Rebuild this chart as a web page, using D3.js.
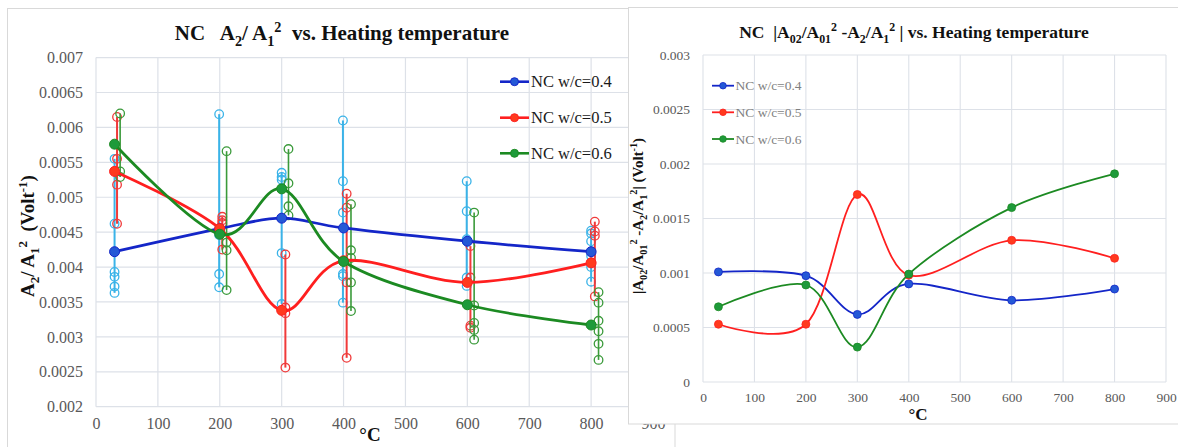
<!DOCTYPE html>
<html><head><meta charset="utf-8">
<script src="https://cdn.jsdelivr.net/npm/d3@7"></script>
<style>
html,body{margin:0;padding:0;background:#fff;}
svg{display:block;}
svg text{font-family:"Liberation Serif","Times New Roman",serif !important;white-space:pre;}
</style></head>
<body>
<svg id="chart" width="1178" height="447"></svg>
<script>
// ---------------- DATA ----------------
const temps = [30, 200, 300, 400, 600, 800];
const seriesNames = ["NC w/c=0.4", "NC w/c=0.5", "NC w/c=0.6"];

// Left chart: mean A2/A1^2
const ratioWc04 = [0.00422, 0.00455, 0.00470, 0.00456, 0.00437, 0.00422];
const ratioWc05 = [0.00537, 0.00455, 0.00338, 0.00409, 0.00378, 0.00406];
const ratioWc06 = [0.00576, 0.00447, 0.00512, 0.00408, 0.00346, 0.00317];

// Left chart: individual measurements (x positions slightly shifted per series)
const rawXWc04 = [30, 199, 300, 399, 599, 800];
const rawXWc05 = [34, 204, 306, 405, 605, 806];
const rawXWc06 = [39, 211, 311, 412, 611, 812];
const rawWc04 = [
  [0.00555, 0.00462, 0.00393, 0.00386, 0.00372, 0.00363],
  [0.00619, 0.00446, 0.00390, 0.00371],
  [0.00535, 0.00529, 0.00525, 0.00420, 0.00347],
  [0.00610, 0.00523, 0.00478, 0.00390, 0.00387, 0.00349],
  [0.00523, 0.00480, 0.00440, 0.00437, 0.00385, 0.00373],
  [0.00452, 0.00448, 0.00437, 0.00416, 0.00400, 0.00379]
];
const rawWc05 = [
  [0.00615, 0.00555, 0.00518, 0.00462],
  [0.00472, 0.00467, 0.00463, 0.00425],
  [0.00418, 0.00342, 0.00334, 0.00256],
  [0.00505, 0.00485, 0.00378, 0.00270],
  [0.00430, 0.00385, 0.00316, 0.00313],
  [0.00465, 0.00451, 0.00445, 0.00358]
];
const rawWc06 = [
  [0.00620, 0.00537, 0.00529],
  [0.00566, 0.00435, 0.00424, 0.00367],
  [0.00569, 0.00520, 0.00487, 0.00474],
  [0.00490, 0.00424, 0.00413, 0.00378, 0.00337],
  [0.00478, 0.00345, 0.00320, 0.00310, 0.00296],
  [0.00364, 0.00349, 0.00323, 0.00308, 0.00290, 0.00267]
];

// Right chart: |A02/A01^2 - A2/A1^2|
const diffWc04 = [0.00101, 0.000975, 0.00062, 0.00090, 0.00075, 0.000853];
const diffWc05 = [0.00053, 0.00053, 0.00172, 0.00098, 0.00130, 0.001135];
const diffWc06 = [0.00069, 0.00089, 0.00032, 0.00099, 0.00160, 0.00191];

// Ticks
const xTicks = [0, 100, 200, 300, 400, 500, 600, 700, 800, 900];
const yTicksLeft = [0.002, 0.0025, 0.003, 0.0035, 0.004, 0.0045, 0.005, 0.0055, 0.006, 0.0065, 0.007];
const yTickLabelsLeft = ["0.002","0.0025","0.003","0.0035","0.004","0.0045","0.005","0.0055","0.006","0.0065","0.007"];
const yTicksRight = [0, 0.0005, 0.001, 0.0015, 0.002, 0.0025, 0.003];
const yTickLabelsRight = ["0","0.0005","0.001","0.0015","0.002","0.0025","0.003"];

// ---------------- STYLE ----------------
const mainColors = ["#1426c8", "#ff1f1f", "#1c8a22"];
const markerColors = ["#2458d6", "#ff3a1e", "#1e9a3a"];
const rawColors = ["#3ab3e8", "#f03a3a", "#3a9a3a"];
const gridColor = "#dde1e8";
const tickColor = "#595959";
const serif = "Liberation Serif, Times New Roman, serif";

const svg = d3.select("#chart");
svg.append("rect").attr("width", 1178).attr("height", 447).attr("fill", "#fff");

function richText(sel, parts, fs) {
  let cur = 0;
  parts.forEach(p => {
    const target = p[1] === "sub" ? 0.28 * fs : p[1] === "sup" ? -0.38 * fs : 0;
    sel.append("tspan").attr("dy", target - cur)
      .attr("font-size", p[1] ? fs * 0.68 : fs).text(p[0]);
    cur = target;
  });
}
function styleAxis(a, fs) {
  a.attr("font-family", serif);
  a.select(".domain").remove();
  a.selectAll("text").attr("fill", tickColor).attr("font-size", fs).style("font-family", serif);
}

// ================= LEFT CHART =================
svg.append("rect").attr("x", 7.5).attr("y", 8.5).attr("width", 667.5).attr("height", 460)
  .attr("fill", "#fff").attr("stroke", "#d9d9d9");

const L = svg.append("g");
const xL = d3.scaleLinear().domain([0, 900]).range([96, 653]);
const yL = d3.scaleLinear().domain([0.002, 0.007]).range([406.7, 57.6]);

L.append("g").selectAll("line").data(xTicks).join("line")
  .attr("x1", d => xL(d)).attr("x2", d => xL(d)).attr("y1", yL(0.007)).attr("y2", yL(0.002))
  .attr("stroke", gridColor).attr("stroke-width", 1.2);
L.append("g").selectAll("line").data(yTicksLeft).join("line")
  .attr("x1", xL(0)).attr("x2", xL(900)).attr("y1", d => yL(d)).attr("y2", d => yL(d))
  .attr("stroke", gridColor).attr("stroke-width", 1.2);

const axL = L.append("g").attr("transform", `translate(${xL(0)},0)`)
  .call(d3.axisLeft(yL).tickValues(yTicksLeft).tickFormat((d, i) => yTickLabelsLeft[i]).tickSize(0).tickPadding(13));
const axB = L.append("g").attr("transform", `translate(0,${yL(0.002)})`)
  .call(d3.axisBottom(xL).tickValues(xTicks).tickFormat(d3.format("d")).tickSize(0).tickPadding(11));
styleAxis(axL, 16);
styleAxis(axB, 16);

const rawSets = [[rawXWc04, rawWc04], [rawXWc05, rawWc05], [rawXWc06, rawWc06]];
rawSets.forEach(([xs, vals], si) => {
  const g = L.append("g");
  vals.forEach((arr, i) => {
    const xx = xL(xs[i]);
    g.append("line").attr("x1", xx).attr("x2", xx)
      .attr("y1", yL(d3.max(arr))).attr("y2", yL(d3.min(arr)))
      .attr("stroke", rawColors[si]).attr("stroke-width", si === 2 ? 1.6 : 2);
    g.selectAll(null).data(arr).join("circle")
      .attr("cx", xx).attr("cy", d => yL(d)).attr("r", 4.3)
      .attr("fill", "none").attr("stroke", rawColors[si]).attr("stroke-width", 1.3);
  });
});

const curve = d3.curveCardinal.tension(0);
const leftSeries = [ratioWc04, ratioWc05, ratioWc06];
const lineL = d3.line().x((d, i) => xL(temps[i])).y(d => yL(d)).curve(curve);
leftSeries.forEach((s, si) => {
  L.append("path").attr("d", lineL(s)).attr("fill", "none")
    .attr("stroke", mainColors[si]).attr("stroke-width", 2.8);
  L.append("g").selectAll("circle").data(s).join("circle")
    .attr("cx", (d, i) => xL(temps[i])).attr("cy", d => yL(d)).attr("r", 5)
    .attr("fill", markerColors[si]).attr("stroke", mainColors[si]).attr("stroke-width", 1);
});

const legYL = [81.7, 117.7, 153.3];
seriesNames.forEach((n, i) => {
  const g = L.append("g");
  g.append("line").attr("x1", 500).attr("x2", 529).attr("y1", legYL[i]).attr("y2", legYL[i])
    .attr("stroke", mainColors[i]).attr("stroke-width", 2.6);
  g.append("circle").attr("cx", 514.5).attr("cy", legYL[i]).attr("r", 4)
    .attr("fill", markerColors[i]).attr("stroke", mainColors[i]).attr("stroke-width", 1);
  g.append("text").attr("x", 531).attr("y", legYL[i]).attr("dy", "0.35em")
    .attr("font-size", 16.5).attr("fill", "#1a1a1a").text(n);
});

const tL = L.append("text").attr("x", 342).attr("y", 40).attr("text-anchor", "middle")
  .attr("font-weight", "bold").attr("fill", "#111");
richText(tL, [["NC   A"], ["2", "sub"], ["/ A"], ["1", "sub"], ["2", "sup"], ["  vs. Heating temperature"]], 21);

const yLab = L.append("text").attr("transform", "translate(34,236) rotate(-90)")
  .attr("text-anchor", "middle").attr("font-weight", "bold").attr("fill", "#111");
richText(yLab, [["A"], ["2", "sub"], ["/ A"], ["1", "sub"], ["2", "sup"], ["  (Volt"], ["-1", "sup"], [")"]], 19);

L.append("text").attr("x", 370).attr("y", 441).attr("text-anchor", "middle")
  .attr("font-weight", "bold").attr("font-size", 19).attr("fill", "#111").text("°C");

// ================= RIGHT CHART =================
svg.append("rect").attr("x", 628.5).attr("y", 7.5).attr("width", 560).attr("height", 416.5)
  .attr("fill", "#fff").attr("stroke", "#d9d9d9");

const R = svg.append("g");
const xR = d3.scaleLinear().domain([0, 900]).range([703, 1166]);
const yR = d3.scaleLinear().domain([0, 0.003]).range([382, 55]);

R.append("g").selectAll("line").data(xTicks).join("line")
  .attr("x1", d => xR(d)).attr("x2", d => xR(d)).attr("y1", yR(0.003)).attr("y2", yR(0))
  .attr("stroke", gridColor).attr("stroke-width", 1.1);
R.append("g").selectAll("line").data(yTicksRight).join("line")
  .attr("x1", xR(0)).attr("x2", xR(900)).attr("y1", d => yR(d)).attr("y2", d => yR(d))
  .attr("stroke", gridColor).attr("stroke-width", 1.1);

const axRL = R.append("g").attr("transform", `translate(${xR(0)},0)`)
  .call(d3.axisLeft(yR).tickValues(yTicksRight).tickFormat((d, i) => yTickLabelsRight[i]).tickSize(0).tickPadding(13));
const axRB = R.append("g").attr("transform", `translate(0,${yR(0)})`)
  .call(d3.axisBottom(xR).tickValues(xTicks).tickFormat(d3.format("d")).tickSize(0).tickPadding(10));
styleAxis(axRL, 13.5);
styleAxis(axRB, 13.5);

const rightSeries = [diffWc04, diffWc05, diffWc06];
const lineR = d3.line().x((d, i) => xR(temps[i])).y(d => yR(d)).curve(curve);
rightSeries.forEach((s, si) => {
  R.append("path").attr("d", lineR(s)).attr("fill", "none")
    .attr("stroke", mainColors[si]).attr("stroke-width", 1.8);
  R.append("g").selectAll("circle").data(s).join("circle")
    .attr("cx", (d, i) => xR(temps[i])).attr("cy", d => yR(d)).attr("r", 4)
    .attr("fill", markerColors[si]).attr("stroke", mainColors[si]).attr("stroke-width", 0.8);
});

const legYR = [85.7, 112.3, 139];
seriesNames.forEach((n, i) => {
  const g = R.append("g");
  g.append("line").attr("x1", 712).attr("x2", 734).attr("y1", legYR[i]).attr("y2", legYR[i])
    .attr("stroke", mainColors[i]).attr("stroke-width", 1.8);
  g.append("circle").attr("cx", 723).attr("cy", legYR[i]).attr("r", 3.3)
    .attr("fill", markerColors[i]).attr("stroke", mainColors[i]).attr("stroke-width", 0.8);
  g.append("text").attr("x", 735.5).attr("y", legYR[i]).attr("dy", "0.35em")
    .attr("font-size", 13.5).attr("fill", "#7f7f7f").text(n);
});

const tR = R.append("text").attr("x", 914).attr("y", 38).attr("text-anchor", "middle")
  .attr("font-weight", "bold").attr("fill", "#111");
richText(tR, [["NC  |A"], ["02", "sub"], ["/A"], ["01", "sub"], ["2", "sup"], [" -A"], ["2", "sub"], ["/A"], ["1", "sub"], ["2", "sup"], [" | vs. Heating temperature"]], 17.5);

const yLabR = R.append("text").attr("transform", "translate(643,216) rotate(-90)")
  .attr("text-anchor", "middle").attr("font-weight", "bold").attr("fill", "#111");
richText(yLabR, [["|A"], ["02", "sub"], ["/A"], ["01", "sub"], ["2", "sup"], [" -A"], ["2", "sub"], ["/A"], ["1", "sub"], ["2", "sup"], ["| (Volt"], ["-1", "sup"], [")"]], 15);

R.append("text").attr("x", 918).attr("y", 420).attr("text-anchor", "middle")
  .attr("font-weight", "bold").attr("font-size", 17).attr("fill", "#111").text("°C");
</script>
</body></html>
